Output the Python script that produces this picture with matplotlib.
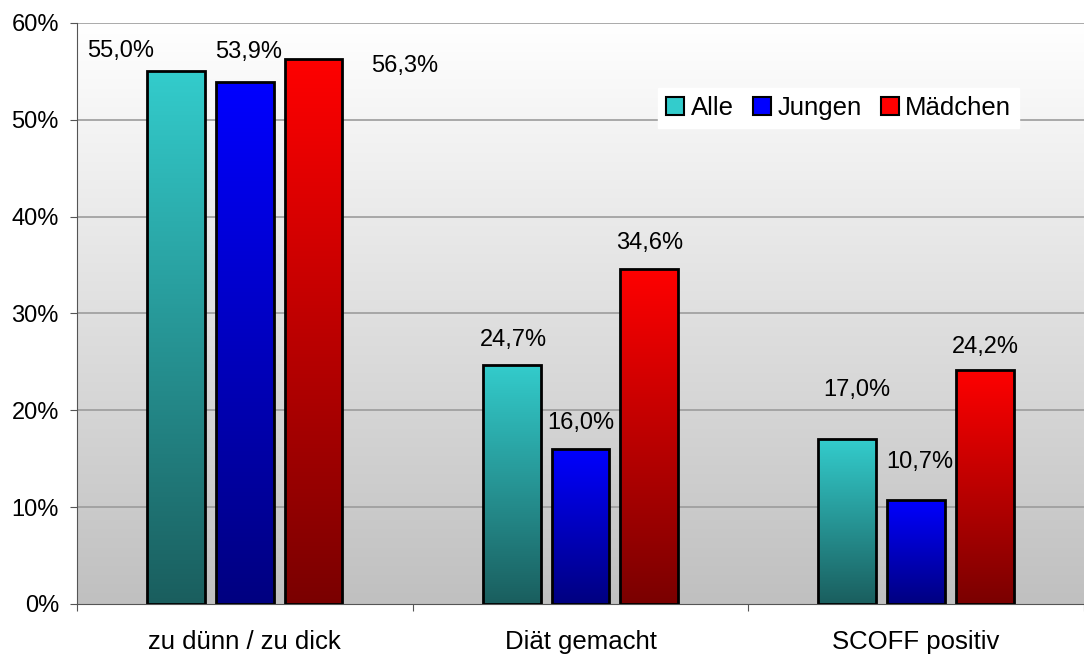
import numpy as np
import matplotlib.pyplot as plt
from matplotlib.colors import LinearSegmentedColormap
from matplotlib.patches import Patch

plt.rcParams['font.family'] = ['Liberation Sans', 'DejaVu Sans']

categories = ['zu dünn / zu dick', 'Diät gemacht', 'SCOFF positiv']
series = ['Alle', 'Jungen', 'Mädchen']
alle = [55.0, 24.7, 17.0]
jungen = [53.9, 16.0, 10.7]
maedchen = [56.3, 34.6, 24.2]
values = [alle, jungen, maedchen]

top_colors = ['#33CCCC', '#0000FF', '#FF0000']
bottom_colors = ['#1A5E5E', '#000080', '#7A0000']

# label offsets in pixels relative to bar top centre
label_offsets = [
    [(-55, 20), (4, 30), (91, -7)],
    [(2, 25), (0, 26), (0, 26)],
    [(9, 49), (4, 38), (0, 23)],
]

fig = plt.figure(figsize=(10.84, 6.55), dpi=100)
ax = fig.add_axes([0.071, 0.078, 0.929, 0.887])

# background gradient, white at the top to light gray at the bottom
bg_cmap = LinearSegmentedColormap.from_list('bg', ['#C0C0C0', '#FFFFFF'])
ax.imshow(np.linspace(0, 1, 256).reshape(-1, 1), extent=[0, 3, 0, 60],
          aspect='auto', cmap=bg_cmap, origin='lower', zorder=0)

for y in range(10, 61, 10):
    ax.axhline(y, color='#9C9C9C', lw=1.2, zorder=1)

width = 0.172
step = 0.205
grad = np.linspace(0, 1, 256).reshape(-1, 1)
for s, vals in enumerate(values):
    cmap = LinearSegmentedColormap.from_list(series[s], [bottom_colors[s], top_colors[s]])
    for c, v in enumerate(vals):
        xc = c + 0.5 + (s - 1) * step
        bar = ax.bar(xc, v, width, facecolor='none', edgecolor='black', lw=2, zorder=3)[0]
        im = ax.imshow(grad, extent=[xc - width / 2, xc + width / 2, 0, v],
                       aspect='auto', cmap=cmap, origin='lower', zorder=2)
        im.set_clip_path(bar)
        dx, dy = label_offsets[c][s]
        ax.annotate(f'{v:.1f}%'.replace('.', ','), (xc, v), xytext=(dx, dy),
                    textcoords='offset pixels', ha='center', va='center', fontsize=17)

ax.set_xlim(0, 3)
ax.set_ylim(0, 60)
ax.set_yticks(range(0, 61, 10))
ax.set_yticklabels([f'{t}%' for t in range(0, 61, 10)], fontsize=17)
ax.set_xticks([0, 1, 2, 3])
ax.set_xticklabels([])
ax.set_xticks([0.5, 1.5, 2.5], minor=True)
ax.set_xticklabels(categories, minor=True, fontsize=18.5)
ax.tick_params(axis='x', which='minor', length=0, pad=19)
ax.tick_params(axis='x', which='major', length=5, color='#555555')
ax.tick_params(axis='y', length=5, color='#555555', pad=8)

for side in ['top', 'right']:
    ax.spines[side].set_visible(False)
ax.spines['left'].set_color('#555555')
ax.spines['bottom'].set_color('#555555')

handles = [Patch(facecolor=top_colors[i], edgecolor='black', lw=1.5, label=series[i])
           for i in range(3)]
leg = ax.legend(handles=handles, loc='upper left', bbox_to_anchor=(0.607, 0.866),
                bbox_transform=fig.transFigure,
                ncol=3, fontsize=18.5, frameon=True, fancybox=False, framealpha=1,
                edgecolor='white', handlelength=0.7, handleheight=0.7,
                handletextpad=0.25, columnspacing=0.75, borderpad=0.32,
                borderaxespad=0)
leg.set_zorder(5)

fig.savefig('out.png', dpi=100)
